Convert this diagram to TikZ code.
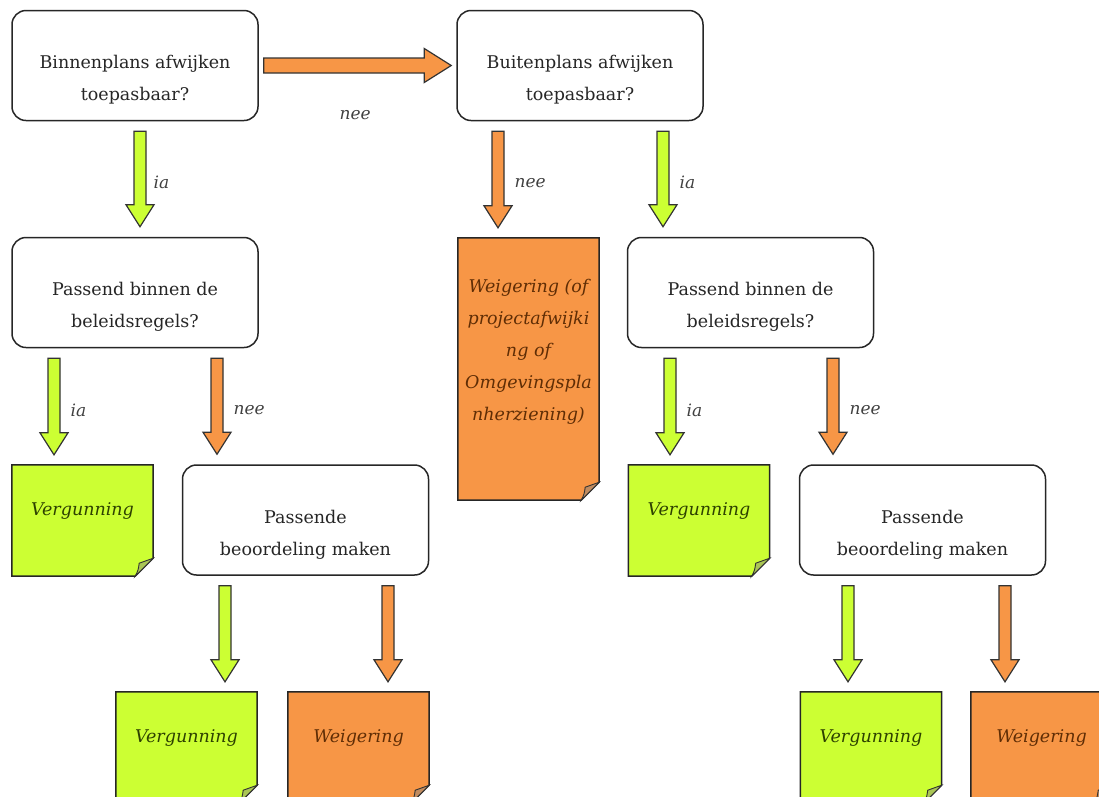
\documentclass[tikz,border=0pt]{standalone}
\usepackage{fontspec}
\setmainfont{DejaVu Serif}
\usetikzlibrary{calc,backgrounds}

\definecolor{limeg}{RGB}{204,255,51}
\definecolor{oranj}{RGB}{247,150,70}
\definecolor{groentekst}{RGB}{45,65,0}
\definecolor{bruintekst}{RGB}{95,45,5}

\tikzset{
  vraag/.style={draw=black!85, line width=1.5pt, rounded corners=14pt, fill=white,
    minimum width=246pt, minimum height=110pt, align=center, text=black!85,
    font=\fontsize{17.5}{32}\selectfont, text height=71pt, text depth=1pt},
  besluit/.style={minimum width=141pt, minimum height=111pt,
    font=\fontsize{17.5}{32}\selectfont\itshape, text height=13pt, text depth=24pt},
  antwoord/.style={font=\fontsize{17}{20}\selectfont\itshape, text=black!75, inner sep=2pt},
  ja/.style={fill=limeg, draw=black!80, line width=1.2pt, blockdown},
  nee/.style={fill=oranj, draw=black!80, line width=1.2pt},
  % block arrows as to paths: shaft 12pt, head 28pt wide
  blockdown/.style={to path={let \p1=(\tikztostart), \p2=(\tikztotarget) in
    (\x1-6pt,\y1-10pt) -- (\x1-6pt,\y2+32pt) -- (\x1-14pt,\y2+32pt) -- (\x1,\y2+10pt)
    -- (\x1+14pt,\y2+32pt) -- (\x1+6pt,\y2+32pt) -- (\x1+6pt,\y1-10pt) \tikztonodes -- cycle}},
  blockright/.style={to path={let \p1=(\tikztostart), \p2=(\tikztotarget) in
    (\x1+5pt,\y1+7.5pt) -- (\x2-32pt,\y1+7.5pt) -- (\x2-32pt,\y1+17pt) -- (\x2-5pt,\y1)
    -- (\x2-32pt,\y1-17pt) -- (\x2-32pt,\y1-7.5pt) -- (\x1+5pt,\y1-7.5pt) \tikztonodes -- cycle}}
}

\begin{document}
\begin{tikzpicture}[x=1pt, y=-1pt]
  \useasboundingbox (0,0) rectangle (1099,796);

  % vragen
  \node[vraag] (A) at (135,65.5) {Binnenplans afwijken\\toepasbaar?};
  \node[vraag] (B) at (580,65.5) {Buitenplans afwijken\\toepasbaar?};
  \node[vraag] (C) at (135,292.5) {Passend binnen de\\beleidsregels?};
  \node[vraag] (E) at (750.5,292.5) {Passend binnen de\\beleidsregels?};
  \node[vraag] (D) at (305.5,520) {Passende\\beoordeling maken};
  \node[vraag] (F) at (922.5,520) {Passende\\beoordeling maken};

  % besluiten
  \foreach \nm/\x/\y in {vn1/82.5/520.5, vn3/699/520.5, vn2/186.5/747.5, vn4/871/747.5}
    \node[besluit, text=groentekst] (\nm) at (\x,\y) {Vergunning};
  \foreach \nm/\x/\y in {wn1/358.5/747.5, wn2/1041.5/747.5}
    \node[besluit, text=bruintekst] (\nm) at (\x,\y) {Weigering};
  \node[besluit, text=bruintekst, align=center, minimum height=262pt,
    text height=110pt, text depth=7pt] (wt) at (528.5,369)
    {Weigering (of\\projectafwijki\\ng of\\Omgevingspla\\nherziening)};

  \begin{scope}[on background layer]
    \foreach \nm/\kl in {vn1/limeg, vn2/limeg, vn3/limeg, vn4/limeg, wn1/oranj, wn2/oranj, wt/oranj} {
      \draw[fill=\kl, draw=black!85, line width=1.5pt] (\nm.north west) -- (\nm.north east)
        -- ([yshift=18pt]\nm.south east) -- ([xshift=-18pt]\nm.south east) -- (\nm.south west) -- cycle;
      \draw[fill=\kl!55!gray, draw=black!80, line width=0.9pt] ([yshift=18pt]\nm.south east)
        .. controls ([xshift=-7pt,yshift=15pt]\nm.south east) .. ([xshift=-14pt,yshift=13pt]\nm.south east)
        .. controls ([xshift=-15pt,yshift=6pt]\nm.south east) .. ([xshift=-18pt]\nm.south east) -- cycle;
    }
  \end{scope}

  % pijlen
  \draw[nee, blockright] (A.east) to node[pos=0.43, below=35pt, antwoord, name=l0] {nee} (B.west);
  \draw[ja] ([xshift=5pt]A.south) to node[pos=0.3, right=5pt, antwoord, name=l1] {ia} (C.north);
  \draw[nee, blockdown] ([xshift=-82pt]B.south) to node[pos=0.3, right=8pt, antwoord, name=l2] {nee} (wt.north);
  \draw[ja] ([xshift=83pt]B.south) to node[pos=0.3, right=8pt, antwoord, name=l3] {ia} (E.north);
  \draw[ja] ([xshift=-81pt]C.south) to node[pos=0.3, right=8pt, antwoord, name=l4] {ia} (vn1.north);
  \draw[nee, blockdown] ([xshift=82pt]C.south) to node[pos=0.3, right=8pt, antwoord, name=l5] {nee} (D.north);
  \draw[ja] ([xshift=-80.5pt]E.south) to node[pos=0.3, right=8pt, antwoord, name=l6] {ia} (vn3.north);
  \draw[nee, blockdown] ([xshift=82.5pt]E.south) to node[pos=0.3, right=8pt, antwoord, name=l7] {nee} (F.north);
  \draw[ja] ([xshift=-80.5pt]D.south) to (vn2.north);
  \draw[nee, blockdown] ([xshift=82.5pt]D.south) to (wn1.north);
  \draw[ja] ([xshift=-74.5pt]F.south) to (vn4.north);
  \draw[nee, blockdown] ([xshift=82.5pt]F.south) to (wn2.north);
\end{tikzpicture}
\end{document}
